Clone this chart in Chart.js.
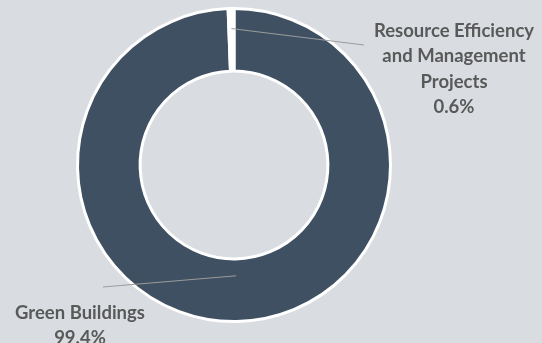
<!DOCTYPE html>
<html>
<head>
<meta charset="utf-8">
<script src="https://cdn.jsdelivr.net/npm/chart.js@4"></script>
<style>
    html, body { margin: 0; padding: 0; background: #d9dde1; }
    #wrap { width: 542px; height: 343px; }
</style>
</head>
<body>
<div id="wrap"><canvas id="allocation-by-category"></canvas></div>
<script>
const categories = ['Green Buildings', 'Resource Efficiency and Management Projects'];
const shares = [99.4, 0.6];
const labelLines = [['Green Buildings'], ['Resource Efficiency', 'and Management', 'Projects']];
const sliceColors = ['#3e5062', '#ffffff'];

// leader line + label placement for each slice
const calloutLayout = [
    { depth: 0.27, end: [103, 287], text: [80, 313], align: 'center' },
    { depth: 0.68, end: [364, 45], text: [454, 31], align: 'center' }
];

const callouts = {
    id: 'callouts',
    afterDatasetsDraw (chart) {
        const ctx = chart.ctx;
        const arcs = chart.getDatasetMeta(0).data;

        arcs.forEach((arc, i) => {
            const layout = calloutLayout[i];
            const { x, y, startAngle, endAngle, innerRadius, outerRadius } = arc.getProps(
                ['x', 'y', 'startAngle', 'endAngle', 'innerRadius', 'outerRadius'], true);
            const mid = (startAngle + endAngle) / 2;
            const r = innerRadius + (outerRadius - innerRadius) * layout.depth;

            ctx.save();
            ctx.strokeStyle = '#9b9b9b';
            ctx.lineWidth = 1;
            ctx.beginPath();
            ctx.moveTo(x + Math.cos(mid) * r, y + Math.sin(mid) * r);
            ctx.lineTo(layout.end[0], layout.end[1]);
            ctx.stroke();

            const lines = labelLines[i].concat([shares[i].toFixed(1) + '%']);
            ctx.fillStyle = '#595959';
            ctx.font = 'bold 18.5px Lato';
            ctx.textAlign = layout.align;
            ctx.textBaseline = 'middle';
            lines.forEach((line, k) => {
                ctx.fillText(line, layout.text[0], layout.text[1] + k * 25.5);
            });
            ctx.restore();
        });
    }
};

new Chart(
    document.getElementById('allocation-by-category'),
    {
        type: 'doughnut',
        data: {
            labels: categories,
            datasets: [
                {
                    data: shares,
                    backgroundColor: sliceColors,
                    borderColor: '#ffffff',
                    borderWidth: 3
                }
            ]
        },
        options: {
            responsive: true,
            maintainAspectRatio: false,
            animation: false,
            cutout: '60%',
            layout: {
                padding: { left: 76, right: 150, top: 7, bottom: 20 }
            },
            plugins: {
                legend: { display: false },
                tooltip: { enabled: false }
            }
        },
        plugins: [callouts]
    }
);
</script>
</body>
</html>
